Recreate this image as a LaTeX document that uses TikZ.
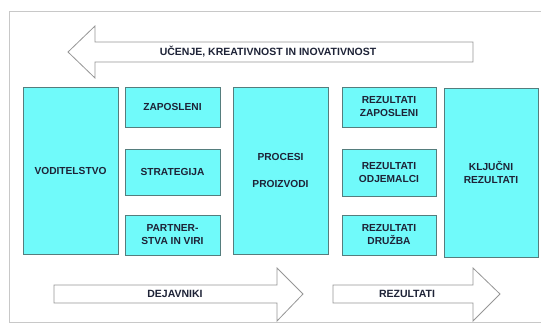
\documentclass[tikz,border=0pt]{standalone}
\usepackage{fontspec}
\setmainfont{Liberation Sans}
\begin{document}
\begin{tikzpicture}[x=1pt,y=-1pt,
  box/.style={draw=boxline,line width=0.9pt,fill=boxfill,align=center,
    font=\bfseries\fontsize{10.2}{13}\selectfont,text=textcol,inner sep=1pt},
  arrowshape/.style={draw=arrline,line width=0.8pt,fill=white},
  lbl/.style={font=\bfseries\fontsize{10.5}{12}\selectfont,text=textcol}]
\definecolor{boxfill}{RGB}{112,250,250}
\definecolor{boxline}{RGB}{85,125,125}
\definecolor{arrline}{RGB}{150,150,150}
\definecolor{textcol}{RGB}{30,35,55}
\definecolor{framecol}{RGB}{200,200,200}
\useasboundingbox (0,0) rectangle (541,325);
\clip (0,0) rectangle (541,325);
\draw[framecol,line width=1.2pt] (9.5,11.5) rectangle (548,322.5);
% top arrow
\draw[arrowshape] (68,52) -- (95,26) -- (95,42) -- (473,42) -- (473,62) -- (95,62) -- (95,78) -- cycle;
\node[lbl] (ucenje) at (268,52) {UČENJE, KREATIVNOST IN INOVATIVNOST};
% boxes
\node[box,minimum width=95pt,minimum height=167pt] (vod) at (70.5,170.5) {VODITELSTVO};
\node[box,minimum width=95pt,minimum height=40pt] (zap) at (172.5,107) {ZAPOSLENI};
\node[box,minimum width=95pt,minimum height=46pt] (str) at (172.5,172) {STRATEGIJA};
\node[box,minimum width=95pt,minimum height=40pt] (par) at (172.5,235) {PARTNER-\\STVA IN VIRI};
\node[box,minimum width=95pt,minimum height=167pt] (proc) at (280.5,170.5) {PROCESI\\[14pt]PROIZVODI};
\node[box,minimum width=94pt,minimum height=40pt] (rz) at (389,107) {REZULTATI\\ZAPOSLENI};
\node[box,minimum width=94pt,minimum height=47pt] (ro) at (389,172.5) {REZULTATI\\ODJEMALCI};
\node[box,minimum width=94pt,minimum height=40pt] (rd) at (389,235) {REZULTATI\\DRUŽBA};
\node[box,minimum width=94pt,minimum height=169pt] (klj) at (491,172.5) {KLJUČNI\\REZULTATI};
% bottom arrows
\draw[arrowshape] (54,285) -- (277,285) -- (277,268) -- (303,294) -- (277,321) -- (277,303) -- (54,303) -- cycle;
\node[lbl] (dej) at (175,294) {DEJAVNIKI};
\draw[arrowshape] (333,285) -- (473,285) -- (473,268) -- (500,294) -- (473,321) -- (473,303) -- (333,303) -- cycle;
\node[lbl] (rez) at (407,294) {REZULTATI};
\end{tikzpicture}
\end{document}
